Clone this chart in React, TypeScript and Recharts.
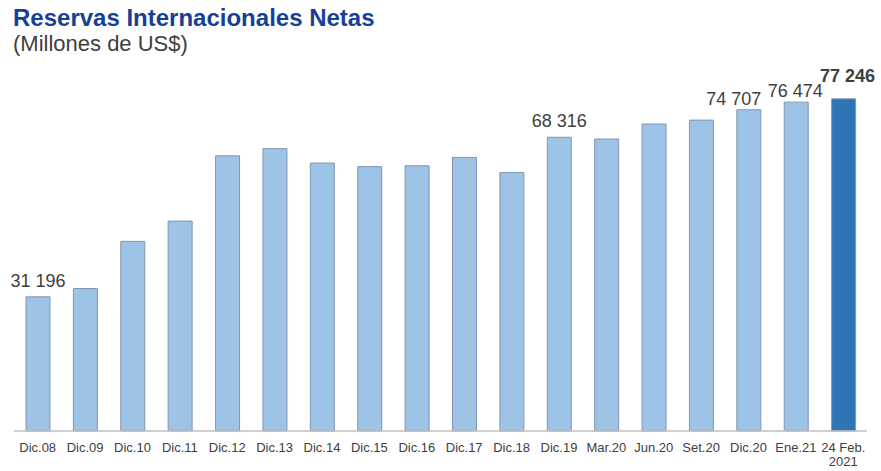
import React from 'react';
import { BarChart, Bar, XAxis, YAxis, Cell, LabelList } from 'recharts';

const categories = [
  'Dic.08', 'Dic.09', 'Dic.10', 'Dic.11', 'Dic.12', 'Dic.13', 'Dic.14', 'Dic.15', 'Dic.16',
  'Dic.17', 'Dic.18', 'Dic.19', 'Mar.20', 'Jun.20', 'Set.20', 'Dic.20', 'Ene.21', '24 Feb.|2021',
];
const reservas = [
  31196, 33135, 44105, 48816, 63991, 65663, 62308, 61485, 61686,
  63621, 60121, 68316, 67900, 71400, 72300, 74707, 76474, 77246,
];
const valueLabels = [
  '31 196', '', '', '', '', '', '', '', '',
  '', '', '68 316', '', '', '', '74 707', '76 474', '77 246',
];

const data = categories.map((cat, i) => ({ cat, value: reservas[i], label: valueLabels[i] }));
const lastIndex = data.length - 1;
const FONT = '"Liberation Sans", Arial, sans-serif';

const CategoryTick = ({ x, y, payload }: any) => {
  const lines = String(payload.value).split('|');
  return (
    <text x={x} y={y + 13} textAnchor="middle" fontSize={13} fill="#404040" fontFamily={FONT}>
      {lines.map((l, i) => (
        <tspan key={i} x={x} dy={i === 0 ? 0 : 14}>{l}</tspan>
      ))}
    </text>
  );
};

const ValueLabel = (props: any) => {
  const { x, y, width, index } = props;
  const text = valueLabels[index];
  if (!text) return null;
  // the last three labels are crowded together in the original, so they are nudged
  let dx = 0;
  let gap = 10;
  if (index === 15) { dx = -15; gap = 5; }
  if (index === 16) { dx = -1; gap = 5; }
  if (index === lastIndex) { dx = 4; gap = 17; }
  return (
    <text
      x={x + width / 2 + dx}
      y={y - gap}
      textAnchor="middle"
      fontSize={18}
      fontWeight={index === lastIndex ? 'bold' : 'normal'}
      fill="#404040"
      fontFamily={FONT}
    >
      {text}
    </text>
  );
};

export default function App() {
  return (
    <div style={{ position: 'absolute', left: 0, top: 0, width: 881, height: 471, background: '#fff', fontFamily: FONT }}>
      <div style={{ position: 'absolute', left: 13, top: 4, fontSize: 24, fontWeight: 'bold', color: '#173F98', lineHeight: '28px' }}>
        Reservas Internacionales Netas
      </div>
      <div style={{ position: 'absolute', left: 13, top: 31, fontSize: 22, color: '#404040', lineHeight: '26px' }}>
        (Millones de US$)
      </div>
      <BarChart
        width={881}
        height={471}
        data={data}
        margin={{ top: 87, right: 14, left: 14, bottom: 0 }}
        barCategoryGap="0%"
      >
        <XAxis
          dataKey="cat"
          interval={0}
          height={40}
          tickLine={false}
          axisLine={{ stroke: '#BFBFBF', strokeWidth: 1.5 }}
          tick={<CategoryTick />}
        />
        <YAxis hide domain={[0, 80000]} />
        <Bar dataKey="value" barSize={24} stroke="#8496B0" strokeWidth={1} isAnimationActive={false}>
          {data.map((d, i) => (
            <Cell key={d.cat} fill={i === lastIndex ? '#2E75B6' : '#9DC3E6'} />
          ))}
          <LabelList dataKey="label" content={<ValueLabel />} />
        </Bar>
      </BarChart>
    </div>
  );
}
